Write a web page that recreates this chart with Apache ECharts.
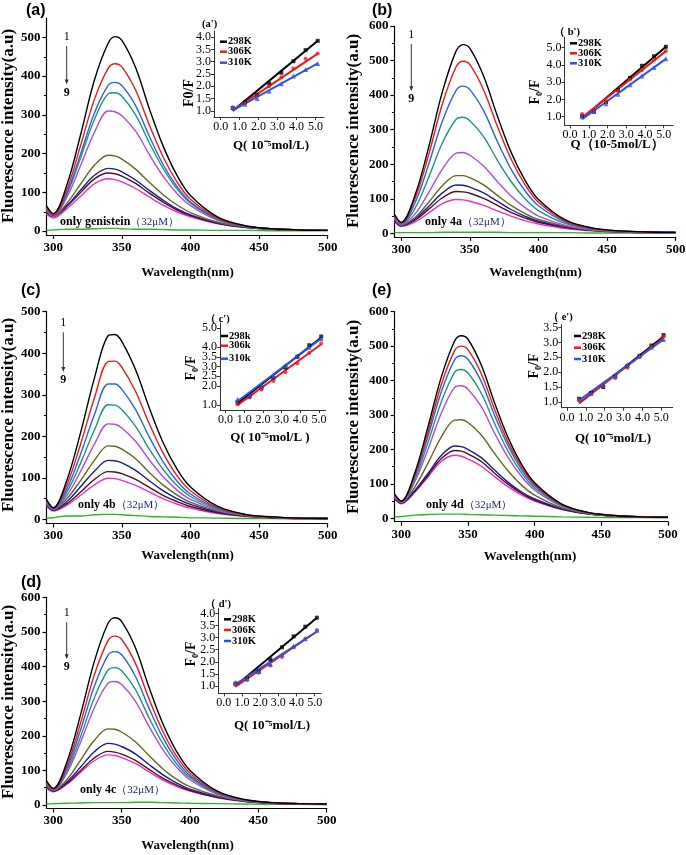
<!DOCTYPE html>
<html><head><meta charset="utf-8">
<script src="https://cdn.jsdelivr.net/npm/echarts@6/dist/echarts.min.js"></script>
<style>html,body{margin:0;padding:0;background:#fff}#c{width:686px;height:855px}</style>
</head><body><div id="c"></div>
<script>
// ---------- DATA ----------
const WL = [295,300,310,320,330,340,345,350,360,370,380,390,400,420,440,460,480,500];
const mainXTicks = [300,350,400,450,500];

const specA = [
[65,45,120,250,390,485,502,492,422,316,220,145,92,36,14,6,3,2],
[62,42,108,222,340,420,432,424,364,274,192,128,82,33,13,6,3,2],
[60,40,100,200,305,376,384,376,324,245,172,116,75,31,12,6,3,2],
[58,40,96,190,288,354,357,348,300,228,162,110,72,30,12,6,3,2],
[56,38,88,170,255,310,308,298,258,198,142,98,66,28,12,6,3,2],
[52,38,72,122,170,196,194,186,160,126,94,68,48,23,11,5,3,2],
[50,38,66,106,144,162,160,153,132,105,80,58,42,21,10,5,3,2],
[48,38,64,100,135,150,148,142,123,98,75,55,40,20,10,5,3,2],
[44,34,58,90,122,135,133,127,110,88,67,50,37,19,9,5,3,2]];
const baseA = [2,3,5,5,6,7,7,6,5,5,4,3,3,2,2,1,1,1];

const specB = [
[55,32,110,250,410,528,546,535,455,340,235,155,98,38,15,7,4,3],
[52,30,100,228,375,482,498,488,415,310,215,142,90,35,14,7,4,3],
[50,28,88,200,325,414,426,416,355,266,186,124,80,32,13,6,3,2],
[48,26,72,162,262,330,336,326,280,212,150,101,66,28,12,6,3,2],
[45,25,56,118,186,232,234,226,195,150,108,75,50,23,10,5,3,2],
[42,24,46,90,138,167,167,161,140,110,81,58,40,20,9,5,3,2],
[40,23,42,78,117,140,139,134,117,93,69,50,35,18,9,5,3,2],
[38,22,38,70,103,121,120,116,101,81,61,45,32,17,8,4,2,2],
[34,20,33,59,86,98,97,93,81,65,50,37,27,14,7,4,2,2]];
const baseB = [2,2,2,2,3,3,3,3,3,3,2,2,2,2,1,1,1,1];

const specC = [
[48,28,95,210,340,442,445,428,360,268,185,122,78,31,12,6,3,2],
[45,27,84,182,292,380,381,366,308,230,160,106,69,28,11,5,3,2],
[43,26,74,158,252,326,326,313,264,198,139,93,61,26,11,5,3,2],
[42,25,66,136,215,276,275,264,224,169,120,82,55,24,10,5,3,2],
[40,24,58,116,181,230,229,220,188,143,103,71,48,22,10,5,3,2],
[38,23,50,94,142,177,176,169,146,113,83,59,41,20,9,5,3,2],
[36,22,43,79,116,142,141,136,118,93,69,50,36,18,9,4,3,2],
[35,22,38,66,96,115,114,110,96,77,58,43,31,16,8,4,2,2],
[33,20,34,58,83,99,98,94,82,66,50,37,27,14,7,4,2,2]];
const baseC = [3,4,8,8,11,12,12,11,9,7,6,5,4,3,2,2,1,1];

const specE = [
[70,50,130,265,410,515,530,520,445,335,235,158,103,42,17,8,4,3],
[68,49,124,250,388,487,500,490,420,316,222,150,98,40,16,8,4,3],
[67,48,119,238,367,460,472,462,397,299,211,143,94,39,16,8,4,3],
[65,47,112,220,338,424,432,422,363,275,195,133,88,37,15,7,4,3],
[63,46,105,200,305,380,385,375,324,247,177,122,82,35,15,7,4,3],
[60,45,90,160,236,285,286,278,242,188,138,97,67,31,14,7,4,3],
[58,45,80,130,182,210,208,200,176,140,105,77,56,28,13,7,4,3],
[57,44,78,125,173,197,195,187,165,131,99,73,53,27,13,6,4,3],
[55,42,75,120,165,183,180,172,151,121,92,68,50,26,12,6,4,3]];
const baseE = [4,5,9,11,12,12,12,11,10,9,8,7,6,4,3,2,2,1];

const specD = [
[70,48,125,262,415,525,541,530,455,340,236,156,100,40,16,7,4,3],
[66,46,115,238,376,475,488,478,410,307,214,142,92,37,15,7,4,3],
[64,45,107,218,343,433,443,434,372,280,196,131,85,35,14,7,4,3],
[62,44,100,198,310,390,397,388,334,252,178,120,79,33,14,7,4,3],
[60,43,93,182,281,352,357,348,300,227,161,110,73,31,13,6,4,3],
[56,42,74,130,187,220,219,211,183,143,105,75,53,26,12,6,3,2],
[54,41,67,110,154,178,176,169,148,117,88,64,46,24,11,6,3,2],
[52,40,63,100,136,155,153,147,129,103,78,58,42,22,11,5,3,2],
[50,38,60,95,128,145,143,137,120,96,73,54,40,21,10,5,3,2]];
const baseD = [3,4,5,6,7,7,7,7,8,8,7,6,5,4,3,2,2,1];

// Stern-Volmer insets
const Q = [0.64,1.28,1.92,2.56,3.2,3.84,4.48,5.12];
const insA298 = [1.12,1.35,1.65,2.12,2.55,3.02,3.47,3.85];
const insA306 = [1.10,1.30,1.60,2.00,2.37,2.72,3.12,3.33];
const insA310 = [1.15,1.27,1.50,1.80,2.10,2.42,2.68,2.93];
const fitA = [[1.0,3.85],[1.02,3.33],[1.02,2.93]];
const insB298 = [1.05,1.30,1.85,2.55,3.25,3.95,4.50,5.05];
const insB306 = [1.15,1.35,1.90,2.50,3.15,3.70,4.30,4.80];
const insB310 = [1.00,1.30,1.75,2.30,2.85,3.35,3.85,4.35];
const fitB = [[0.9,5.05],[0.95,4.8],[0.85,4.35]];
const insC298 = [1.15,1.45,1.90,2.40,2.95,3.50,4.10,4.55];
const insC306 = [1.05,1.40,1.80,2.25,2.70,3.15,3.70,4.20];
const insC310 = [1.30,1.50,2.00,2.50,3.05,3.55,4.00,4.45];
const fitC = [[1.1,4.5],[1.0,4.15],[1.2,4.45]];
const insE298 = [1.10,1.30,1.50,1.85,2.20,2.55,2.90,3.25];
const insE306 = [1.05,1.25,1.55,1.80,2.15,2.50,2.85,3.20];
const insE310 = [1.10,1.30,1.60,1.90,2.25,2.55,2.85,3.10];
const fitE = [[0.95,3.2],[0.95,3.15],[1.05,3.1]];
const insD298 = [1.10,1.30,1.60,2.10,2.60,3.05,3.45,3.82];
const insD306 = [1.05,1.25,1.55,1.85,2.20,2.60,2.95,3.30];
const insD310 = [1.15,1.30,1.60,1.90,2.30,2.65,2.95,3.30];
const fitD = [[1.0,3.82],[0.97,3.25],[1.07,3.25]];

const tempsK = ['298K','306K','310K'];
const tempsk = ['298k','306k','310k'];
const compounds = ['genistein','4a','4b','4d','4c'];
const panelTags = ['(a)','(b)','(c)','(e)','(d)'];
const insetTags = ["(a')","（ b')","（ c')","（ e')","（ d')"];

// ---------- STYLE / LAYOUT ----------
const curveColors = ['#000000','#f01818','#2b63e0','#1f9683','#b04ae6','#5e6b1c','#1b1b98','#4e1020','#f22cc4'];
const baseColor = '#2bb52b';
const tempColors = ['#000000','#f01818','#2a55e8'];
const tempSymbols = ['rect','circle','triangle'];
const SERIF = '"Liberation Serif","Times New Roman",serif';

const panels = [
 {spec:specA, base:baseA, grid:{left:46.4, top:18, width:281.3, height:217}, yMax:550, yTicks:[0,100,200,300,400,500],
  ins:{left:214, top:31, width:110, height:86, xMin:-0.35, xMax:5.45, yMin:0.75, yMax:4.25, yStep:0.5, yFirst:1, yLast:4},
  pts:[insA298,insA306,insA310], fit:fitA, temps:tempsK,
  ytitle:[8,126], xtitle:[187.5,273], tag:[26,11], arrow:[66.7,37,92.5], note:[60,221.7],
  itag:[202,24], ytitleIn:[189,93], xtitleIn:[271,146], qtext:'Q( 10⁻⁵mol/L)', ftext:'F0/F',
  leg:{x:220, ys:[41.7,51.7,62.7]}},
 {spec:specB, base:baseB, grid:{left:394.4, top:26, width:281.3, height:210.8}, yMax:600, yTicks:[0,100,200,300,400,500,600],
  ins:{left:564.5, top:37.3, width:108.5, height:88, xMin:-0.3, xMax:5.5, yMin:0.5, yMax:5.6, yStep:1, yFirst:1, yLast:5},
  pts:[insB298,insB306,insB310], fit:fitB, temps:tempsK,
  ytitle:[353,131], xtitle:[535.5,273], tag:[372,11], arrow:[411.3,35,99.3], note:[425,221.7],
  itag:[554,32], ytitleIn:[535,92], xtitleIn:[617,145], qtext:'Q（10-5mol/L）', ftext:'F₀/F',
  leg:{x:570, ys:[43.3,53.3,63.3]}},
 {spec:specC, base:baseC, grid:{left:46.4, top:311.7, width:281.3, height:211.8}, yMax:500, yTicks:[0,100,200,300,400,500],
  ins:{left:220, top:323, width:105.5, height:87, xMin:-0.3, xMax:5.35, yMin:0.75, yMax:5.25, yStep:0.5, yFirst:1, yLast:5},
  pts:[insC298,insC306,insC310], fit:fitC, temps:tempsk,
  ytitle:[8,415], xtitle:[187.5,556], tag:[21,291], arrow:[63.3,323.3,380], note:[78,505],
  itag:[205,319], ytitleIn:[191,368], xtitleIn:[270,438], qtext:'Q( 10⁻⁵mol/L )', ftext:'F₀/F',
  leg:{x:221, ys:[336,345.7,358.7]}},
 {spec:specE, base:baseE, grid:{left:394.6, top:311.7, width:273.4, height:210}, yMax:600, yTicks:[0,100,200,300,400,500,600],
  ins:{left:561.3, top:324.7, width:111.3, height:83, xMin:-0.3, xMax:5.6, yMin:0.8, yMax:3.6, yStep:0.5, yFirst:1, yLast:3.5},
  pts:[insE298,insE306,insE310], fit:fitE, temps:tempsK,
  ytitle:[353,417], xtitle:[530,556.7], tag:[372,291], arrow:null, note:[426,505],
  itag:[548,317.5], ytitleIn:[534,366], xtitleIn:[613,439], qtext:'Q( 10⁻⁵mol/L)', ftext:'F₀/F',
  leg:{x:574, ys:[336,347.7,359]}},
 {spec:specD, base:baseD, grid:{left:46.5, top:597.3, width:280.2, height:211.2}, yMax:600, yTicks:[0,100,200,300,400,500,600],
  ins:{left:218.3, top:608.5, width:102.8, height:84.8, xMin:-0.3, xMax:5.35, yMin:0.7, yMax:4.2, yStep:0.5, yFirst:1, yLast:4},
  pts:[insD298,insD306,insD310], fit:fitD, temps:tempsK,
  ytitle:[8,702], xtitle:[187.5,846], tag:[21,583], arrow:[66.7,613.3,667.3], note:[80,790],
  itag:[205,604], ytitleIn:[191,654], xtitleIn:[272,726], qtext:'Q( 10⁻⁵mol/L)', ftext:'F₀/F',
  leg:{x:224, ys:[619.3,630,641]}}
];

// ---------- BUILD ----------
const grid=[], xAxis=[], yAxis=[], series=[], graphic=[];
const axisLine = {show:true, onZero:false, lineStyle:{color:'#000', width:1.2}};
function range(a,b,s){const r=[];for(let v=a;v<=b+1e-9;v+=s)r.push(+v.toFixed(2));return r;}

panels.forEach((p,i)=>{
  grid.push(Object.assign({containLabel:false, outerBoundsMode:'none'}, p.grid));
  xAxis.push({type:'value', gridIndex:i, min:295, max:500, axisLine,
    axisTick:{show:true, inside:false, length:4, customValues:mainXTicks, lineStyle:{color:'#000',width:1.2}},
    axisLabel:{customValues:mainXTicks, margin:6, color:'#000', fontFamily:SERIF, fontWeight:'bold', fontSize:13, showMinLabel:true, showMaxLabel:true},
    splitLine:{show:false}});
  yAxis.push({type:'value', gridIndex:i, min:-10, max:p.yMax, axisLine,
    axisTick:{show:true, inside:false, length:4, customValues:p.yTicks, lineStyle:{color:'#000',width:1.2}},
    axisLabel:{customValues:p.yTicks, margin:6, color:'#000', fontFamily:SERIF, fontWeight:'bold', fontSize:13, showMinLabel:true, showMaxLabel:true},
    splitLine:{show:false}});
});
panels.forEach((p,i)=>{
  const g=p.ins;
  grid.push({left:g.left, top:g.top, width:g.width, height:g.height, containLabel:false, outerBoundsMode:'none'});
  const xt=[0,1,2,3,4,5], yt=range(g.yFirst,g.yLast,g.yStep);
  xAxis.push({type:'value', gridIndex:5+i, min:g.xMin, max:g.xMax, axisLine:{show:true,onZero:false,lineStyle:{color:'#333',width:1}},
    axisTick:{show:true, inside:false, length:3, customValues:xt, lineStyle:{color:'#333'}},
    axisLabel:{customValues:xt, margin:4, color:'#000', fontFamily:SERIF, fontSize:12, formatter:v=>v.toFixed(1), showMinLabel:true, showMaxLabel:true, hideOverlap:false},
    splitLine:{show:false}});
  yAxis.push({type:'value', gridIndex:5+i, min:g.yMin, max:g.yMax, axisLine:{show:true,onZero:false,lineStyle:{color:'#333',width:1}},
    axisTick:{show:true, inside:false, length:3, customValues:yt, lineStyle:{color:'#333'}},
    axisLabel:{customValues:yt, margin:3, color:'#000', fontFamily:SERIF, fontSize:12, formatter:v=>v.toFixed(1), showMinLabel:true, showMaxLabel:true, hideOverlap:false},
    splitLine:{show:false}});
});
// minor ticks on main y axes
panels.forEach((p,i)=>{
  const mt=p.yTicks.slice(0,-1).map(v=>v+50).filter(v=>v<p.yMax);
  yAxis.push({type:'value', gridIndex:i, position:'left', offset:0, min:-10, max:p.yMax, axisLine:{show:false},
    axisTick:{show:true, inside:false, length:2.5, customValues:mt, lineStyle:{color:'#000',width:1}},
    axisLabel:{show:false}, splitLine:{show:false}});
});

panels.forEach((p,i)=>{
  p.spec.forEach((row,j)=>{
    series.push({type:'line', xAxisIndex:i, yAxisIndex:i, data:WL.map((w,k)=>[w,row[k]]),
      smooth:0.35, symbol:'none', lineStyle:{color:curveColors[j], width:1.4}, silent:true, z:3+ (9-j)*0.01});
  });
  series.push({type:'line', xAxisIndex:i, yAxisIndex:i, data:WL.map((w,k)=>[w,p.base[k]]),
    smooth:0.35, symbol:'none', lineStyle:{color:baseColor, width:1.4}, silent:true});
  p.fit.forEach((f,t)=>{
    series.push({type:'line', xAxisIndex:5+i, yAxisIndex:5+i, data:[[Q[0],f[0]],[Q[Q.length-1],f[1]]],
      symbol:'none', lineStyle:{color:tempColors[t], width:2}, silent:true, z:4});
  });
  p.pts.forEach((arr,t)=>{
    series.push({type:'scatter', xAxisIndex:5+i, yAxisIndex:5+i, data:Q.map((q,k)=>[q,arr[k]]),
      symbol:tempSymbols[t], symbolSize:t===2?5:4, itemStyle:{color:tempColors[t]}, silent:true, z:5});
  });
});

function txt(x,y,text,font,opts){
  return Object.assign({type:'text', x, y, silent:true, z:100,
    style:Object.assign({text, font, fill:'#000', align:'center', verticalAlign:'middle'}, opts&&opts.style||{})},
    opts&&opts.el||{});
}
panels.forEach((p,i)=>{
  graphic.push(txt(p.tag[0],p.tag[1],panelTags[i],'bold 16px "Liberation Sans",Arial,sans-serif',{style:{align:'left'}}));
  graphic.push(txt(p.ytitle[0]+0.5,p.ytitle[1],'Fluorescence intensity(a.u)','bold 17px '+SERIF,{el:{rotation:Math.PI/2}}));
  graphic.push(txt(p.xtitle[0],p.xtitle[1],'Wavelength(nm)','bold 13px '+SERIF));
  if(p.arrow){
    const [ax,y1,y9]=p.arrow;
    graphic.push(txt(ax,y1,'1','12px '+SERIF));
    graphic.push(txt(ax,y9,'9','bold 12px '+SERIF));
    graphic.push({type:'line', silent:true, shape:{x1:ax,y1:y1+9,x2:ax,y2:y9-12}, style:{stroke:'#333',lineWidth:1}});
    graphic.push({type:'polygon', silent:true, shape:{points:[[ax-2,y9-13],[ax+2,y9-13],[ax,y9-8]]}, style:{fill:'#333'}});
  }
  graphic.push({type:'text', x:p.note[0], y:p.note[1], silent:true, z:100,
    style:{text:'{b|only '+compounds[i]+'}{n|（32μM）}', align:'left', verticalAlign:'middle',
      rich:{b:{font:'bold 12px '+SERIF, fill:'#000'}, n:{font:'11px '+SERIF, fill:'#1c2a7a'}}}});
  graphic.push(txt(p.itag[0],p.itag[1],insetTags[i],'bold 10.5px '+SERIF,{style:{align:'left'}}));
  graphic.push(txt(p.ytitleIn[0],p.ytitleIn[1],p.ftext,'bold 14px '+SERIF,{el:{rotation:Math.PI/2}}));
  graphic.push(txt(p.xtitleIn[0],p.xtitleIn[1],p.qtext,'bold 13px '+SERIF));
  p.temps.forEach((t,k)=>{
    const y=p.leg.ys[k];
    graphic.push({type:'line', silent:true, z:100, shape:{x1:p.leg.x,y1:y,x2:p.leg.x+7,y2:y}, style:{stroke:tempColors[k],lineWidth:2.5}});
    graphic.push(txt(p.leg.x+8,y,t,'bold 10.5px '+SERIF,{style:{align:'left'}}));
  });
});

const chart = echarts.init(document.getElementById('c'), null, {renderer:'canvas'});
chart.setOption({animation:false, grid, xAxis, yAxis, series, graphic});
</script></body></html>
